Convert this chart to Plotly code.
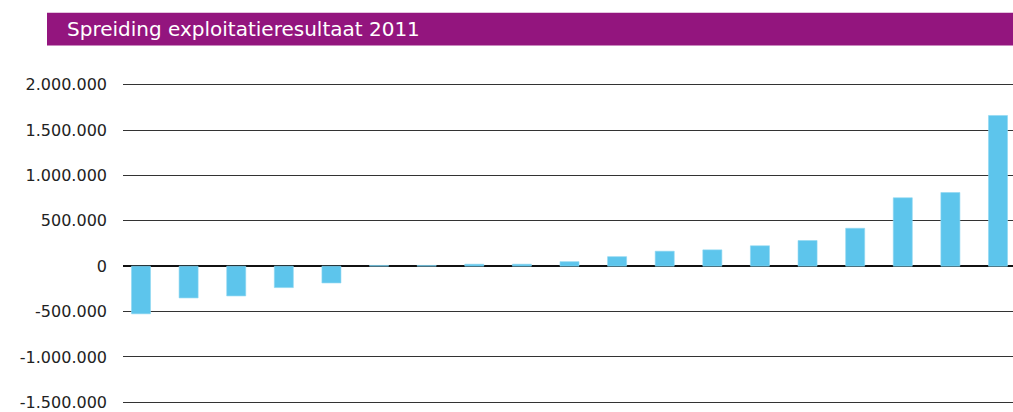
import plotly.graph_objects as go

# Data
positions = list(range(1, 20))
resultaat = [-525000, -350000, -328000, -236000, -185000, 8000, 8000, 22000, 22000,
             50000, 105000, 165000, 180000, 225000, 283000, 418000, 754000, 812000, 1661000]
tick_values = [2000000, 1500000, 1000000, 500000, 0, -500000, -1000000, -1500000]
tick_labels = ["2.000.000", "1.500.000", "1.000.000", "500.000", "0",
               "-500.000", "-1.000.000", "-1.500.000"]
title_text = "Spreiding exploitatieresultaat 2011"

W, H = 1013, 412
# pixel positions in the reference: 2.000.000 at y=84.7, -1.500.000 at y=406.7
ppm = (406.7 - 84.7) / 3.5  # pixels per million
y_top, y_bot = 2.03, -1.53   # range in millions
T = 84.7 - (y_top - 2.0) * ppm
B = H - (406.7 + (-1.5 - y_bot) * ppm)
L, R = 123, 0
pw, ph = W - L - R, H - round(T) - round(B)

fig = go.Figure()
fig.add_trace(go.Bar(
    x=positions, y=resultaat, width=0.4,
    marker=dict(color="#5DC5EC", line=dict(color="#8ED6F2", width=0.6)),
    showlegend=False, hoverinfo="y",
))

def px_x(p):
    return (p - L) / pw

def px_y(p):
    return (H - round(B) - p) / ph

fig.add_shape(type="rect", xref="paper", yref="paper",
              x0=px_x(47), x1=px_x(1013), y0=px_y(45), y1=px_y(12),
              fillcolor="#93157E", line=dict(width=0), layer="above")
fig.add_annotation(text=title_text, xref="paper", yref="paper",
                   x=px_x(65), y=px_y(28.5), xanchor="left", yanchor="middle",
                   showarrow=False,
                   font=dict(family="DejaVu Sans", size=20, color="white"))

fig.update_layout(
    width=W, height=H,
    margin=dict(l=L, r=R, t=T, b=B, pad=0),
    plot_bgcolor="white", paper_bgcolor="white",
    bargap=0.6,
)
fig.update_xaxes(range=[1 - 0.378, 19.315], showgrid=False, showticklabels=False,
                 zeroline=False, showline=False, ticks="")
fig.update_yaxes(range=[y_bot * 1e6, y_top * 1e6], tickvals=tick_values, ticktext=tick_labels,
                 showgrid=True, gridcolor="#333333", gridwidth=1,
                 zeroline=True, zerolinecolor="#111111", zerolinewidth=2,
                 showline=False, ticks="", ticklabelstandoff=15,
                 ticklabeloverflow="allow",
                 tickfont=dict(family="DejaVu Sans", size=16, color="#222222"))

fig.write_html("out.html", config={"displayModeBar": False},
               post_script="document.body.style.margin='0';document.body.style.overflow='hidden';")
